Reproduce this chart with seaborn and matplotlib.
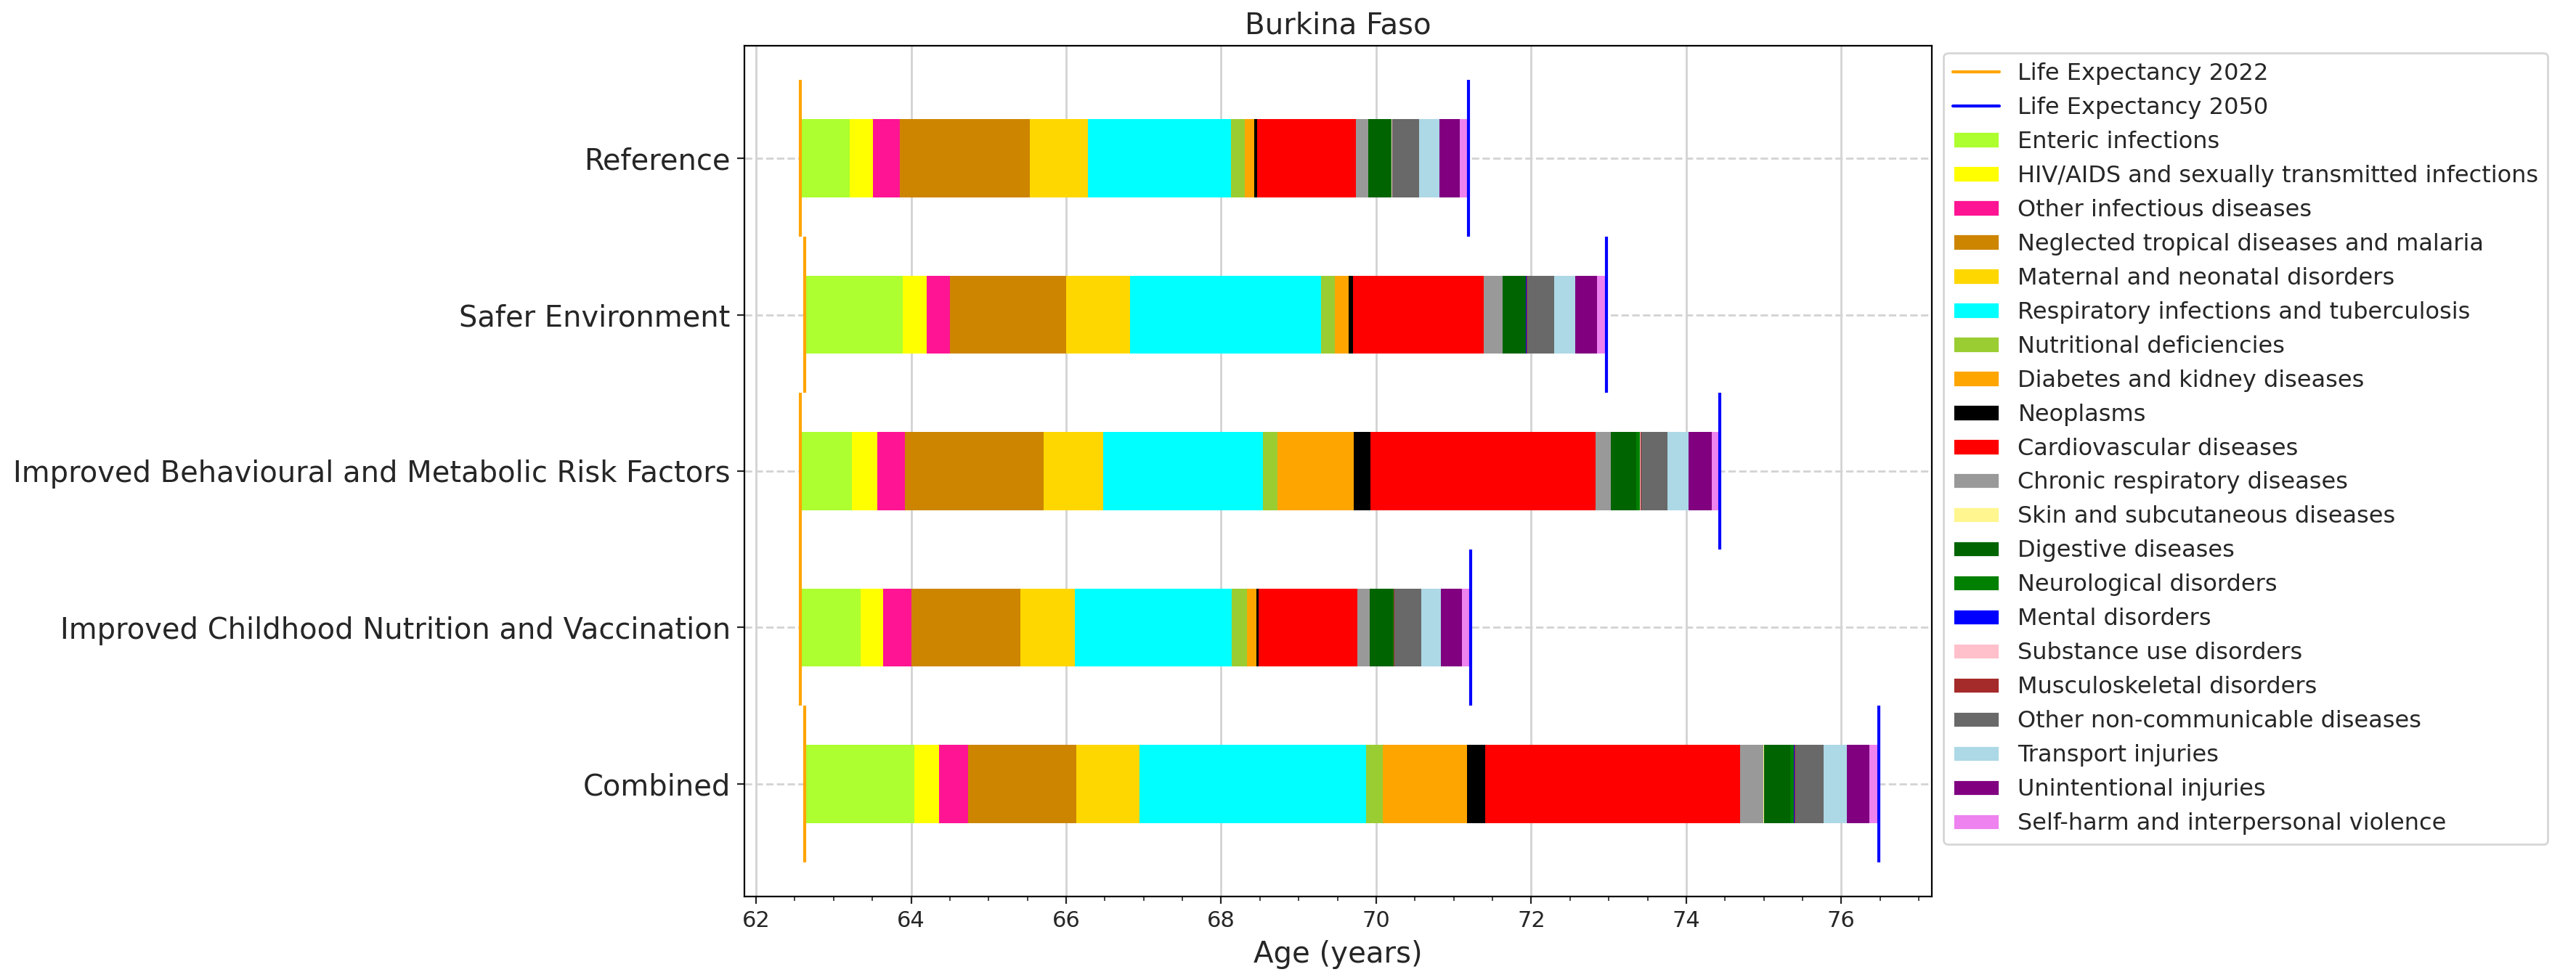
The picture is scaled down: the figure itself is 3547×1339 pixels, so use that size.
import numpy as np
import matplotlib
matplotlib.use("Agg")
import matplotlib.pyplot as plt
from matplotlib.lines import Line2D
from matplotlib.patches import Patch
from matplotlib.ticker import MultipleLocator
import seaborn as sns

# Data (years of life expectancy gained per cause)
SCENARIOS = [
    'Reference',
    'Safer Environment',
    'Improved Behavioural and Metabolic Risk Factors',
    'Improved Childhood Nutrition and Vaccination',
    'Combined',
]

CAUSES = [
    'Enteric infections',
    'HIV/AIDS and sexually transmitted infections',
    'Other infectious diseases',
    'Neglected tropical diseases and malaria',
    'Maternal and neonatal disorders',
    'Respiratory infections and tuberculosis',
    'Nutritional deficiencies',
    'Diabetes and kidney diseases',
    'Neoplasms',
    'Cardiovascular diseases',
    'Chronic respiratory diseases',
    'Skin and subcutaneous diseases',
    'Digestive diseases',
    'Neurological disorders',
    'Mental disorders',
    'Substance use disorders',
    'Musculoskeletal disorders',
    'Other non-communicable diseases',
    'Transport injuries',
    'Unintentional injuries',
    'Self-harm and interpersonal violence',
]

CAUSE_COLORS = [
    '#ADFF2F', '#FFFF00', '#FF1493', '#CD8500', '#FFD700', '#00FFFF',
    '#9ACD32', '#FFA500', '#000000', '#FF0000', '#999999', '#FFF68F',
    '#006400', '#008000', '#0000FF', '#FFC0CB', '#A52A2A', '#696969',
    '#ADD8E6', '#800080', '#EE82EE',
]

le_2022 = [62.57, 62.63, 62.57, 62.57, 62.63]
le_2050 = [71.19, 72.97, 74.43, 71.22, 76.48]

reference = [0.636, 0.300, 0.350, 1.674, 0.750, 1.847, 0.182, 0.113, 0.046, 1.266, 0.161,
             0.004, 0.290, 0.006, 0.005, 0.002, 0.004, 0.349, 0.260, 0.265, 0.097]
safer_env = [1.261, 0.307, 0.307, 1.494, 0.824, 2.461, 0.180, 0.180, 0.057, 1.682, 0.244,
             0.004, 0.295, 0.006, 0.005, 0.002, 0.008, 0.351, 0.273, 0.281, 0.105]
behavioural = [0.670, 0.324, 0.352, 1.796, 0.767, 2.062, 0.188, 0.984, 0.210, 2.908, 0.196,
               0.004, 0.320, 0.048, 0.005, 0.002, 0.010, 0.345, 0.272, 0.292, 0.095]
childhood = [0.778, 0.290, 0.364, 1.409, 0.704, 2.023, 0.193, 0.120, 0.028, 1.274, 0.160,
             0.004, 0.298, 0.006, 0.005, 0.002, 0.004, 0.349, 0.254, 0.272, 0.097]
combined = [1.414, 0.319, 0.375, 1.397, 0.813, 2.921, 0.216, 1.083, 0.234, 3.294, 0.301,
            0.006, 0.338, 0.048, 0.008, 0.002, 0.005, 0.367, 0.296, 0.291, 0.110]

gains = np.array([reference, safer_env, behavioural, childhood, combined])

sns.set_style("ticks")
plt.rcParams['font.family'] = ['DejaVu Sans']

fig = plt.figure(figsize=(17.735, 6.695), dpi=200)
ax = fig.add_axes([0.289, 0.0777, 0.461, 0.8753])

y = np.arange(len(SCENARIOS))
bar_h = 0.5

# stacked horizontal bars starting at the 2022 life expectancy
left = np.array(le_2022, dtype=float)
for i, cause in enumerate(CAUSES):
    ax.barh(y, gains[:, i], left=left, height=bar_h, color=CAUSE_COLORS[i],
            edgecolor='none', zorder=2)
    left = left + gains[:, i]

# life expectancy markers
ax.vlines(le_2022, y - 0.5, y + 0.5, color='orange', lw=1.5, zorder=3)
ax.vlines(le_2050, y - 0.5, y + 0.5, color='blue', lw=1.5, zorder=3)

ax.set_yticks(y)
ax.set_yticklabels(SCENARIOS, fontsize=14.4)
ax.set_ylim(len(SCENARIOS) - 0.5 + 0.22, -0.5 - 0.22)
ax.set_xlim(61.85, 77.17)
ax.xaxis.set_major_locator(MultipleLocator(2))
ax.xaxis.set_minor_locator(MultipleLocator(0.5))
ax.tick_params(axis='x', labelsize=11)
ax.grid(axis='x', which='major', color='lightgrey', lw=1, zorder=0)
ax.grid(axis='y', color='lightgrey', ls='--', lw=1, zorder=0)
ax.set_axisbelow(True)
for sp in ax.spines.values():
    sp.set_color('black')

ax.set_xlabel('Age (years)', fontsize=14.5)
ax.set_title('Burkina Faso', fontsize=14.5)

handles = [Line2D([0], [0], color='orange', lw=1.5, label='Life Expectancy 2022'),
           Line2D([0], [0], color='blue', lw=1.5, label='Life Expectancy 2050')]
handles += [Patch(facecolor=c, label=n) for n, c in zip(CAUSES, CAUSE_COLORS)]
ax.legend(handles=handles, loc='upper left', bbox_to_anchor=(1.0, 1.005), fontsize=11.5)

fig.savefig('out.png', dpi=200)
